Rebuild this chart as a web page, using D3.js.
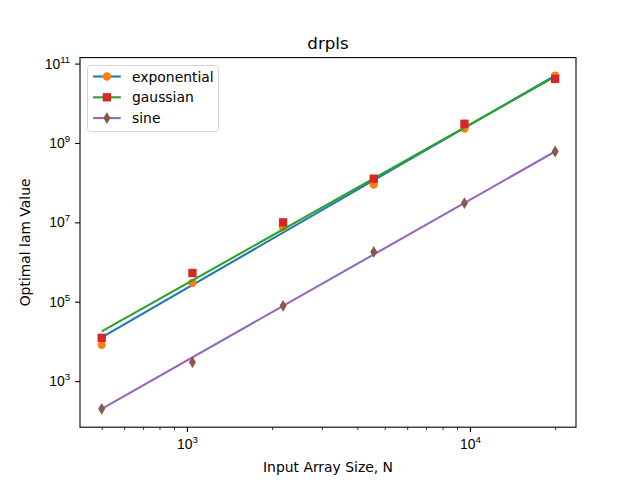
<!DOCTYPE html>
<html>
<head>
<meta charset="utf-8">
<script src="https://cdn.jsdelivr.net/npm/d3@7"></script>
<style>
  body { margin: 0; background: #fff; }
  svg { display: block; font-family: 'DejaVu Sans', sans-serif; }
  .tick text { font-size: 13.9px; fill: #000; }
</style>
</head>
<body>
<div id="chart"></div>
<script>
// array sizes
var sizes = [500, 1046, 2187, 4573, 9564, 20000];

// measured optimal lam values
var expValues = [8.2e3, 3.0e5, 7.4e6, 9.0e7, 2.3e9, 5.0e10];
var gaussValues = [1.23e4, 5.3e5, 1.0e7, 1.26e8, 3.05e9, 4.1e10];
var sineValues = [200, 3.0e3, 7.9e4, 1.8e6, 3.07e7, 6.1e8];

// fitted lines, values at the first and last size
var fitSizes = [500, 20000];
var expFit = [1.27e4, 5.0e10];
var gaussFit = [1.8e4, 4.7e10];
var sineFit = [200, 6.1e8];

var xMajor = [1e3, 1e4];
var xMinor = [500, 600, 700, 800, 900, 2000, 3000, 4000, 5000, 6000, 7000, 8000, 9000, 20000];
var yMajor = [1e3, 1e5, 1e7, 1e9, 1e11];

var series = [
  { name: 'exponential', values: expValues, fit: expFit, line: '#1f77b4', marker: '#ff7f0e', shape: 'circle' },
  { name: 'gaussian', values: gaussValues, fit: gaussFit, line: '#2ca02c', marker: '#d62728', shape: 'square' },
  { name: 'sine', values: sineValues, fit: sineFit, line: '#9467bd', marker: '#8c564b', shape: 'diamond' }
];

var graph = {
  width: 640,
  height: 480,
  left: 80,
  right: 576,
  top: 57.6,
  bottom: 427.2
};

var x = d3.scaleLog().domain([419, 23700]).range([graph.left, graph.right]);
var y = d3.scaleLog().domain([69, 1.416e11]).range([graph.bottom, graph.top]);

var svg = d3.select('#chart').append('svg')
  .attr('width', graph.width)
  .attr('height', graph.height);

// marker paths, matplotlib size 6pt
var ms = 8.33;
function markerPath(shape) {
  if (shape === 'circle') {
    return d3.symbol().type(d3.symbolCircle).size(Math.PI * ms * ms / 4)();
  }
  if (shape === 'square') {
    var h = ms / 2;
    return 'M' + (-h) + ',' + (-h) + 'H' + h + 'V' + h + 'H' + (-h) + 'Z';
  }
  var dy = ms * Math.SQRT2 / 2, dx = dy * 0.6;
  return 'M0,' + (-dy) + 'L' + dx + ',0L0,' + dy + 'L' + (-dx) + ',0Z';
}

function powerLabel(sel, exp) {
  sel.text('');
  sel.append('tspan').text('10');
  sel.append('tspan')
    .attr('dy', -6)
    .style('font-size', '9.7px')
    .text(exp);
}

// x axis
var xAxis = svg.append('g')
  .attr('class', 'x axis')
  .attr('transform', 'translate(0,' + graph.bottom + ')');

xAxis.append('g')
  .call(d3.axisBottom(x).tickValues(xMinor).tickSize(2.8).tickFormat(''))
  .call(function(g) { g.select('.domain').remove(); })
  .selectAll('line').attr('stroke-width', 0.8);

xAxis.append('g')
  .call(d3.axisBottom(x).tickValues(xMajor).tickSize(4.9).tickPadding(4.5).tickFormat(''))
  .call(function(g) { g.select('.domain').remove(); })
  .call(function(g) {
    g.selectAll('line').attr('stroke-width', 1.1);
    g.selectAll('.tick text')
      .attr('dy', '0.71em')
      .each(function(d) { powerLabel(d3.select(this), Math.round(Math.log10(d))); })
      .select('tspan:last-child').attr('dy', -6);
    g.selectAll('.tick text').attr('y', 12);
  });

// y axis
svg.append('g')
  .attr('class', 'y axis')
  .attr('transform', 'translate(' + graph.left + ',0)')
  .call(d3.axisLeft(y).tickValues(yMajor).tickSize(4.9).tickPadding(4.5).tickFormat(''))
  .call(function(g) { g.select('.domain').remove(); })
  .call(function(g) {
    g.selectAll('line').attr('stroke-width', 1.1);
    g.selectAll('.tick text')
      .attr('dy', '0.32em')
      .attr('x', -9.8)
      .attr('dx', 0)
      .each(function(d) { powerLabel(d3.select(this), Math.round(Math.log10(d))); });
  });

// plot content
var plot = svg.append('g');

var fitLine = d3.line()
  .x(function(d) { return x(d[0]); })
  .y(function(d) { return y(d[1]); });

series.forEach(function(s) {
  plot.append('path')
    .datum(d3.zip(fitSizes, s.fit))
    .attr('fill', 'none')
    .attr('stroke', s.line)
    .attr('stroke-width', 2.08)
    .attr('d', fitLine);

  plot.selectAll('.m-' + s.shape)
    .data(d3.zip(sizes, s.values))
    .enter().append('path')
    .attr('class', 'm-' + s.shape)
    .attr('d', markerPath(s.shape))
    .attr('fill', s.marker)
    .attr('transform', function(d) {
      return 'translate(' + x(d[0]) + ',' + y(d[1]) + ')';
    });
});

// frame
svg.append('rect')
  .attr('x', graph.left)
  .attr('y', graph.top)
  .attr('width', graph.right - graph.left)
  .attr('height', graph.bottom - graph.top)
  .attr('fill', 'none')
  .attr('stroke', '#000')
  .attr('stroke-width', 1.1);

// legend
var legend = svg.append('g')
  .attr('transform', 'translate(87.5,65.5)');

legend.append('rect')
  .attr('width', 131)
  .attr('height', 66)
  .attr('rx', 3)
  .attr('fill', 'rgba(255,255,255,0.8)')
  .attr('stroke', '#d6d6d6')
  .attr('stroke-width', 1);

var rows = legend.selectAll('.row')
  .data(series)
  .enter().append('g')
  .attr('class', 'row')
  .attr('transform', function(d, i) { return 'translate(0,' + (11 + i * 20.8) + ')'; });

rows.append('line')
  .attr('x1', 5.5).attr('x2', 33.3)
  .attr('stroke', function(d) { return d.line; })
  .attr('stroke-width', 2.08);

rows.append('path')
  .attr('d', function(d) { return markerPath(d.shape); })
  .attr('fill', function(d) { return d.marker; })
  .attr('transform', 'translate(19.4,0)');

rows.append('text')
  .attr('x', 44.5)
  .attr('dy', '0.36em')
  .style('font-size', '13.9px')
  .text(function(d) { return d.name; });

// title and axis labels
svg.append('text')
  .attr('x', (graph.left + graph.right) / 2)
  .attr('y', 49)
  .attr('text-anchor', 'middle')
  .style('font-size', '16.7px')
  .text('drpls');

svg.append('text')
  .attr('x', (graph.left + graph.right) / 2)
  .attr('y', 472)
  .attr('text-anchor', 'middle')
  .style('font-size', '13.9px')
  .text('Input Array Size, N');

svg.append('text')
  .attr('transform', 'translate(30,' + ((graph.top + graph.bottom) / 2) + ') rotate(-90)')
  .attr('text-anchor', 'middle')
  .style('font-size', '13.9px')
  .text('Optimal lam Value');
</script>
</body>
</html>
